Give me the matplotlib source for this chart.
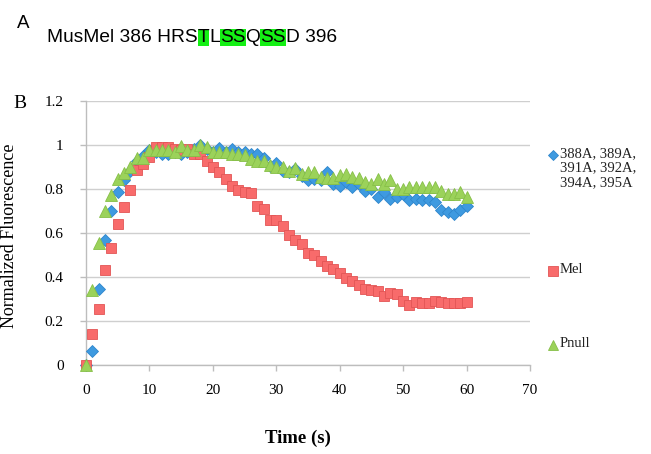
import numpy as np
import matplotlib.pyplot as plt
from matplotlib.lines import Line2D

# 数据
time_s = list(range(61))

mut_388_395 = [0.00, 0.06, 0.345, 0.565, 0.70, 0.785, 0.84, 0.88, 0.925, 0.95,
               0.975, 0.97, 0.96, 0.96, 0.97, 0.96, 0.97, 0.98, 1.00, 0.98,
               0.97, 0.985, 0.97, 0.98, 0.97, 0.97, 0.96, 0.96, 0.94, 0.906,
               0.916, 0.883, 0.875, 0.89, 0.86, 0.84, 0.845, 0.84, 0.875, 0.823,
               0.815, 0.83, 0.807, 0.823, 0.792, 0.80, 0.762, 0.785, 0.754, 0.762,
               0.777, 0.747, 0.755, 0.747, 0.75, 0.739, 0.705, 0.694, 0.686, 0.705,
               0.724]

mel = [0.00, 0.14, 0.255, 0.43, 0.53, 0.64, 0.717, 0.795, 0.887, 0.915,
       0.943, 0.99, 0.99, 0.99, 0.98, 0.975, 0.98, 0.96, 0.96, 0.925,
       0.90, 0.875, 0.845, 0.815, 0.795, 0.785, 0.78, 0.724, 0.71, 0.66,
       0.66, 0.633, 0.59, 0.565, 0.547, 0.51, 0.50, 0.47, 0.45, 0.435,
       0.415, 0.395, 0.38, 0.36, 0.345, 0.34, 0.335, 0.31, 0.325, 0.32,
       0.29, 0.27, 0.285, 0.28, 0.28, 0.29, 0.285, 0.28, 0.28, 0.28,
       0.283]

pnull = [0.00, 0.34, 0.555, 0.70, 0.77, 0.845, 0.87, 0.90, 0.94, 0.94,
         0.977, 0.977, 0.975, 0.977, 0.966, 0.997, 0.977, 0.975, 1.00, 0.99,
         0.966, 0.966, 0.966, 0.96, 0.957, 0.953, 0.936, 0.925, 0.925, 0.91,
         0.898, 0.898, 0.883, 0.895, 0.868, 0.875, 0.875, 0.856, 0.85, 0.85,
         0.862, 0.868, 0.853, 0.85, 0.83, 0.823, 0.845, 0.823, 0.838, 0.80,
         0.80, 0.808, 0.808, 0.808, 0.808, 0.81, 0.792, 0.777, 0.777, 0.785,
         0.765]

series_labels = ['388A, 389A,\n391A, 392A,\n394A, 395A', 'Mel', 'Pnull']
x_ticks = [0, 10, 20, 30, 40, 50, 60, 70]
y_ticks = [0, 0.2, 0.4, 0.6, 0.8, 1.0, 1.2]
y_tick_labels = ['0', '0.2', '0.4', '0.6', '0.8', '1', '1.2']

seq_parts = ['MusMel 386 HRS', 'T', 'L', 'SS', 'Q', 'SS', 'D 396']
seq_marked = [False, True, False, True, False, True, False]

serif = ['Liberation Serif', 'DejaVu Serif']

fig = plt.figure(figsize=(6.51, 4.54), dpi=100)
ax = fig.add_axes([86 / 651, 1 - 364.5 / 454, 444 / 651, 263.5 / 454])

styles = [
    dict(marker='D', ms=6.0, mfc='#3E9AE0', mec='#2F86CC', mew=0.6),
    dict(marker='s', ms=7.8, mfc='#F86B6B', mec='#E25555', mew=0.6),
    dict(marker='^', ms=8.3, mfc='#9BD25A', mec='#86BF48', mew=0.6),
]
for i, ys in enumerate([mut_388_395, mel, pnull]):
    ax.plot(time_s, ys, linestyle='none', zorder=3 + i, clip_on=False, **styles[i])

ax.set_xlim(0, 70)
ax.set_ylim(0, 1.2)
ax.set_xticks(x_ticks)
ax.set_yticks(y_ticks)
ax.set_yticklabels(y_tick_labels)
ax.grid(axis='y', color='#CFCFCF', linewidth=1.0)
ax.set_axisbelow(True)
for side in ['top', 'right']:
    ax.spines[side].set_visible(False)
for side in ['left', 'bottom']:
    ax.spines[side].set_color('#BDBDBD')
    ax.spines[side].set_linewidth(1.0)
ax.tick_params(axis='both', direction='out', length=4, color='#BDBDBD', width=1.0)
ax.tick_params(axis='x', pad=10)
ax.tick_params(axis='y', pad=12)
for lab in ax.get_xticklabels() + ax.get_yticklabels():
    lab.set_family(serif)
    lab.set_fontsize(11)

ax.set_xlabel('Time (s)', family=serif, fontsize=13.5, fontweight='bold')
ax.xaxis.set_label_coords((298 - 86) / 444, -(430 - 364.5) / 263.5)
ax.set_ylabel('Normalized Fluorescence', family=serif, fontsize=13)
ax.yaxis.set_label_coords(-(86 - 18) / 444, (364.5 - 236) / 263.5)

# 图例（手动放置）
leg_y = [155, 271, 345]
for i, lab in enumerate(series_labels):
    st = dict(styles[i])
    st['ms'] = st['ms'] * 0.9
    fig.add_artist(Line2D([553 / 651], [1 - leg_y[i] / 454], linestyle='none', **st))
    fig.text(560 / 651, 1 - (leg_y[i] - 8) / 454, lab, family=serif, fontsize=10.5,
             va='top', ha='left', linespacing=1.15, color='#222222')

# 面板标签
fig.text(17 / 651, 1 - 28 / 454, 'A', family=['Liberation Sans', 'DejaVu Sans'], fontsize=13.5)
fig.text(13 / 651, 1 - 108.5 / 454, 'B', family=serif, fontsize=14)

# 序列文字，高亮部分逐段绘制
renderer = fig.canvas.get_renderer()
x_px = 47
for part, marked in zip(seq_parts, seq_marked):
    kw = dict(family=['Liberation Sans', 'DejaVu Sans'], fontsize=13.8, va='baseline', ha='left')
    if marked:
        kw['bbox'] = dict(boxstyle='square,pad=0', fc='#14F014', ec='none')
    t = fig.text(x_px / 651, 1 - 41.7 / 454, part, **kw)
    x_px += t.get_window_extent(renderer).width

fig.savefig('out.png', dpi=100)
